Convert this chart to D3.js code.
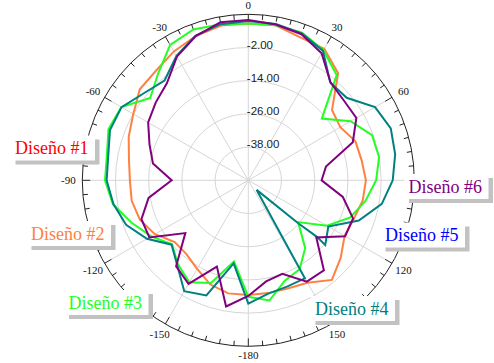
<!DOCTYPE html>
<html><head><meta charset="utf-8">
<script src="https://cdn.jsdelivr.net/npm/d3@7"></script>
<style>body{margin:0;background:#fff}svg{display:block}</style>
</head><body><svg id="c" width="494" height="363"></svg>
<script>
// ---- data ----
const angleDeg = [0,10,20,30,40,50,60,70,80,90,100,110,120,130,140,150,160,170,180,190,200,210,220,230,240,250,260,270,280,290,300,310,320,330,340,350];
const diseno2 = [6.7,6.9,5.0,4.9,0.5,-10.5,-11.6,-8.8,-8.4,-7.5,-8.0,-9.4,-9.8,-6.4,-3.0,-7.2,-8.4,-8.6,-8.5,-8.5,-9.9,-13.0,-15.2,-15.3,-11.0,-8.3,-7.2,-7.2,-6.2,-4.0,-2.0,1.2,1.8,3.8,5.5,6.8];
const diseno3 = [6.7,6.9,6.8,4.3,-0.3,-15.3,-7.3,-2.4,-2.0,-3.8,-7.0,-10.8,-17.1,-26.5,-18.0,-12.9,-11.4,-5.9,-7.9,-20.2,-10.5,-7.4,-10.4,-14.0,-9.5,-5.1,-0.3,1.8,1.9,3.8,3.0,-3.7,0.6,6.5,8.0,7.3];
const diseno6 = [7.9,7.2,6.2,3.0,-3.8,-5.0,-4.9,-9.8,-21.5,-23.5,-15.3,-9.7,-9.6,-17.9,-7.5,-7.7,-14.0,-12.9,-8.2,-3.7,-16.8,-6.8,-9.4,-20.3,-8.7,-8.9,-13.4,-22.3,-15.0,-12.0,-8.2,-6.3,-4.2,1.6,5.5,8.0];
const diseno4Angles = [0,10,20,30,40,50,60,70,80,90,100,110,120,130,129.5,130.7,139,150,160,170,180,190,200,210,220,230,240,250,260,270,280,290,300,310,320,330,340,350];
const diseno4 = [7.6,7.4,6.5,4.0,-3.9,-3.6,2.9,4.8,3.9,2.2,-1.0,-7.5,-16.6,-13.7,-18.0,-26.2,-45.4,-9.1,-9.1,-8.4,-5.4,-19.5,-5.7,-3.7,-10.0,-13.8,-7.7,-3.0,-0.5,1.2,1.4,3.2,2.9,-0.9,-2.9,1.9,5.7,7.3];
const radialTicks = [-38,-26,-14,-2];
const radialTickLabels = ["-38.00","-26.00","-14.00","-2.00"];
const angleTicks = [0,30,60,90,120,150,180,210,240,270,300,330];
// the 90 label is hidden behind the "Diseño #6" box in the reference
const angleLabelAngles = [0,30,60,120,150,180,210,240,270,300,330];
const angleTickLabels = ["0","30","60","120","150","-180","-150","-120","-90","-60","-30"];
const legendNames = ["Diseño #1","Diseño #2","Diseño #3","Diseño #4","Diseño #5","Diseño #6"];

// ---- styles / layout ----
const legendColors = ["#ff0000","#ff8040","#22ff22","#008080","#0000ff","#800080"];
const legendPos = [[15,154],[31,239.5],[68.5,308.5],[315,314.5],[385,241],[408.5,192.5]];
const cx = 248.3, cy = 180.3, R = 166;

const svg = d3.select("#c");
const g = svg.append("g").attr("transform", `translate(${cx},${cy})`);
const r = d3.scaleLinear().domain([-50, 10]).range([0, R]);
const rad = d => d * Math.PI / 180;
const px = (a, rr) => rr * Math.sin(rad(a));
const py = (a, rr) => -rr * Math.cos(rad(a));

// grid circles
g.selectAll("circle.grid").data(radialTicks).join("circle")
  .attr("r", d => r(d)).attr("fill", "none").attr("stroke", "#d6d6d6").attr("stroke-width", 1);
// spokes
g.selectAll("line.spoke").data(angleTicks).join("line")
  .attr("x1", 0).attr("y1", 0)
  .attr("x2", d => px(d, R - 8)).attr("y2", d => py(d, R - 8))
  .attr("stroke", "#d6d6d6").attr("stroke-width", 1);

// outer ring
g.append("circle").attr("r", R).attr("fill", "none").attr("stroke", "#222").attr("stroke-width", 1);
// ticks
const tickAngles = d3.range(0, 360, 5);
g.selectAll("line.tick").data(tickAngles).join("line")
  .attr("x1", d => px(d, R - (d % 30 === 0 ? 8 : 5))).attr("y1", d => py(d, R - (d % 30 === 0 ? 8 : 5)))
  .attr("x2", d => px(d, R)).attr("y2", d => py(d, R))
  .attr("stroke", "#222").attr("stroke-width", 1);

// angle labels
const lr = d => 175 + 5 * Math.abs(Math.sin(rad(d)));
g.selectAll("text.ang").data(angleLabelAngles).join("text")
  .attr("x", d => px(d, lr(d)))
  .attr("y", d => py(d, lr(d)))
  .attr("text-anchor", "middle").attr("dominant-baseline", "central")
  .attr("font-family", "'Liberation Serif','Times New Roman',serif").attr("font-size", 11)
  .attr("fill", "#111")
  .text((d, i) => angleTickLabels[i]);

// radial labels
g.selectAll("text.rl").data(radialTicks).join("text")
  .attr("x", -1.5).attr("y", d => -r(d) + 1)
  .attr("font-family", "'Liberation Sans',Arial,sans-serif").attr("font-size", 11.5)
  .attr("fill", "#222")
  .text((d, i) => radialTickLabels[i]);

// series
const line = d3.lineRadial().angle(d => rad(d[0])).radius(d => r(d[1])).curve(d3.curveLinearClosed);
const series = [
  {vals: diseno2, ang: angleDeg, color: legendColors[1]},
  {vals: diseno3, ang: angleDeg, color: legendColors[2]},
  {vals: diseno4, ang: diseno4Angles, color: legendColors[3]},
  {vals: diseno6, ang: angleDeg, color: legendColors[5]},
];
series.forEach(s => {
  g.append("path").datum(s.ang.map((a, i) => [a, s.vals[i]]))
    .attr("d", line).attr("fill", "none").attr("stroke", s.color)
    .attr("stroke-width", 2).attr("stroke-linejoin", "miter");
});

// legend labels
legendNames.forEach((name, i) => {
  const [tx, ty] = legendPos[i];
  const lg = svg.append("g");
  lg.append("rect").attr("x", tx - 4 + 4.5).attr("y", ty - 18.5 + 4).attr("width", 84).attr("height", 25).attr("fill", "#c2c2c2");
  lg.append("rect").attr("x", tx - 4).attr("y", ty - 18.5).attr("width", 84).attr("height", 25).attr("fill", "#fff");
  lg.append("text").attr("x", tx).attr("y", ty)
    .attr("font-family", "'Liberation Serif','Times New Roman',serif").attr("font-size", 18)
    .attr("fill", legendColors[i]).text(name);
});
</script></body></html>
